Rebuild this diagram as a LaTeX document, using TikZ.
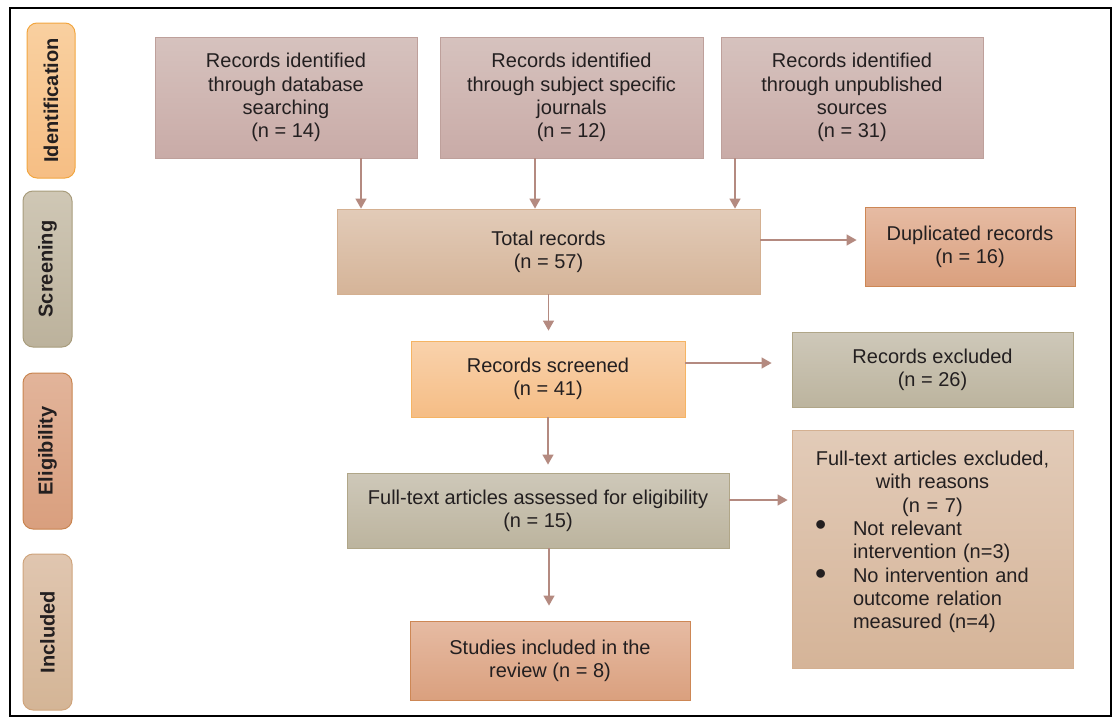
\documentclass[tikz,border=0pt]{standalone}
\usepackage{fontspec}
\setmainfont{Liberation Sans}
\usepackage{xcolor}
\usetikzlibrary{arrows.meta}
\definecolor{prmauvetop}{RGB}{214,194,190}
\definecolor{prmauvebot}{RGB}{201,171,167}
\definecolor{prmauveline}{RGB}{190,160,155}
\definecolor{prtantop}{RGB}{226,203,184}
\definecolor{prtanbot}{RGB}{213,180,152}
\definecolor{prtanline}{RGB}{212,176,145}
\definecolor{prsalmontop}{RGB}{230,187,163}
\definecolor{prsalmonbot}{RGB}{218,160,126}
\definecolor{prsalmonline}{RGB}{205,135,85}
\definecolor{prgraytop}{RGB}{206,200,185}
\definecolor{prgraybot}{RGB}{188,180,158}
\definecolor{prgrayline}{RGB}{176,166,136}
\definecolor{prorangetop}{RGB}{249,210,172}
\definecolor{prorangebot}{RGB}{245,189,133}
\definecolor{prorangeline}{RGB}{245,180,100}
\definecolor{prarrow}{RGB}{180,138,128}
\definecolor{prtext}{RGB}{35,31,32}

\begin{document}
\begin{tikzpicture}[x=0.5pt, y=-0.5pt,
    font=\fontsize{10}{11.65}\selectfont, text=prtext,
    box/.style={draw, line width=0.4pt, align=center, inner sep=2pt},
    mauvebox/.style={box, draw=prmauveline, top color=prmauvetop, bottom color=prmauvebot},
    tanbox/.style={box, draw=prtanline, top color=prtantop, bottom color=prtanbot},
    salmonbox/.style={box, draw=prsalmonline, top color=prsalmontop, bottom color=prsalmonbot},
    graybox/.style={box, draw=prgrayline, top color=prgraytop, bottom color=prgraybot},
    orangebox/.style={box, draw=prorangeline, top color=prorangetop, bottom color=prorangebot},
    stage/.style={rounded corners=5pt, rotate=90, line width=0.5pt,
        font=\fontsize{10}{11}\selectfont\bfseries, minimum width=78pt, minimum height=24.5pt},
    arr/.style={draw=prarrow, line width=0.6pt, -{Triangle[length=5pt,width=5.5pt]}}]
    \useasboundingbox (0,0) rectangle (1115,718);
    % Frame
    \draw[line width=0.6pt] (10,8) rectangle (1111,716);

    % Stage labels
    \node[stage, draw={rgb,255:red,242;green,166;blue,64},
        top color={rgb,255:red,249;green,208;blue,160}, bottom color={rgb,255:red,246;green,190;blue,132},
        minimum width=77.5pt, minimum height=24pt] (identlbl) at (51,100.5) {Identification};
    \node[stage, draw={rgb,255:red,168;green,156;blue,124},
        top color={rgb,255:red,207;green,199;blue,181}, bottom color={rgb,255:red,188;green,178;blue,156}] (screenlbl) at (47.5,269) {Screening};
    \node[stage, draw={rgb,255:red,201;green,133;blue,80},
        top color={rgb,255:red,226;green,180;blue,154}, bottom color={rgb,255:red,217;green,159;blue,126}] (eliglbl) at (47.5,451) {Eligibility};
    \node[stage, draw={rgb,255:red,207;green,164;blue,124},
        top color={rgb,255:red,224;green,198;blue,176}, bottom color={rgb,255:red,212;green,181;blue,150}] (incllbl) at (47.5,632) {Included};

    % Identification
    \node[mauvebox, minimum width=131pt, minimum height=60.5pt] (db) at (286,97.5) {Records identified\\through database\\searching\\(n = 14)};
    \node[mauvebox, minimum width=131.5pt, minimum height=60.5pt] (jour) at (571.5,97.5) {Records identified\\through subject specific\\journals\\(n = 12)};
    \node[mauvebox, minimum width=131pt, minimum height=60.5pt] (unpub) at (852,97.5) {Records identified\\through unpublished\\sources\\(n = 31)};

    % Screening
    \node[tanbox, minimum width=211.5pt, minimum height=42.5pt] (total) at (548.5,251.5) {Total records\\(n = 57)};
    \node[salmonbox, minimum width=105pt, minimum height=39.5pt] (dup) at (970,246.5) {Duplicated records\\(n = 16)};
    \node[orangebox, minimum width=137pt, minimum height=38pt] (screened) at (548,379) {Records screened\\(n = 41)};
    \node[graybox, minimum width=140.5pt, minimum height=37.5pt] (recexcl) at (932.5,369.5) {Records excluded\\(n = 26)};

    % Eligibility
    \node[graybox, minimum width=191pt, minimum height=37.5pt] (assessed) at (538,510.5) {Full-text articles assessed for eligibility\\(n = 15)};
    \node[tanbox, align=left, inner xsep=10pt, text width=120.5pt, minimum width=140.5pt, minimum height=119pt] (ftexcl) at (932.5,549)
        {{\centering Full-text articles excluded,\\with reasons\\(n = 7)\par}
        \makebox[20.5pt][l]{\hspace{1.5pt}{\fontsize{16}{11.65}\selectfont\textbullet}}Not relevant\\
        \hspace*{20.5pt}intervention (n=3)\\
        \makebox[20.5pt][l]{\hspace{1.5pt}\raisebox{-1pt}{\fontsize{16}{11.65}\selectfont\textbullet}}No intervention and\\
        \hspace*{20.5pt}outcome relation\\
        \hspace*{20.5pt}measured (n=4)\par\vspace*{7pt}};

    % Included
    \node[salmonbox, minimum width=140pt, minimum height=39.5pt] (included) at (550,660.5) {Studies included in the\\review (n = 8)};

    % Arrows
    \draw[arr] ([xshift=37.5pt]db.south) -- ([xshift=37.5pt]db.south |- total.north);
    \draw[arr] ([xshift=-18.25pt]jour.south) -- ([xshift=-18.25pt]jour.south |- total.north);
    \draw[arr] ([xshift=-58.5pt]unpub.south) -- ([xshift=-58.5pt]unpub.south |- total.north);
    \draw[arr, shorten >=5pt] (total.south) -- (total.south |- screened.north);
    \draw[arr, shorten >=4pt] ([yshift=5.75pt]total.east) -- ([yshift=5.75pt]total.east -| dup.west);
    \draw[arr, shorten >=10pt] ([yshift=8pt]screened.east) -- ([yshift=8pt]screened.east -| recexcl.west);
    \draw[arr, shorten >=4pt] (screened.south) -- (screened.south |- assessed.north);
    \draw[arr, shorten >=2pt] ([yshift=5.25pt]assessed.east) -- ([yshift=5.25pt]assessed.east -| ftexcl.west);
    \draw[arr, shorten >=7.5pt] ([xshift=5.5pt]assessed.south) -- ([xshift=5.5pt]assessed.south |- included.north);
\end{tikzpicture}
\end{document}
